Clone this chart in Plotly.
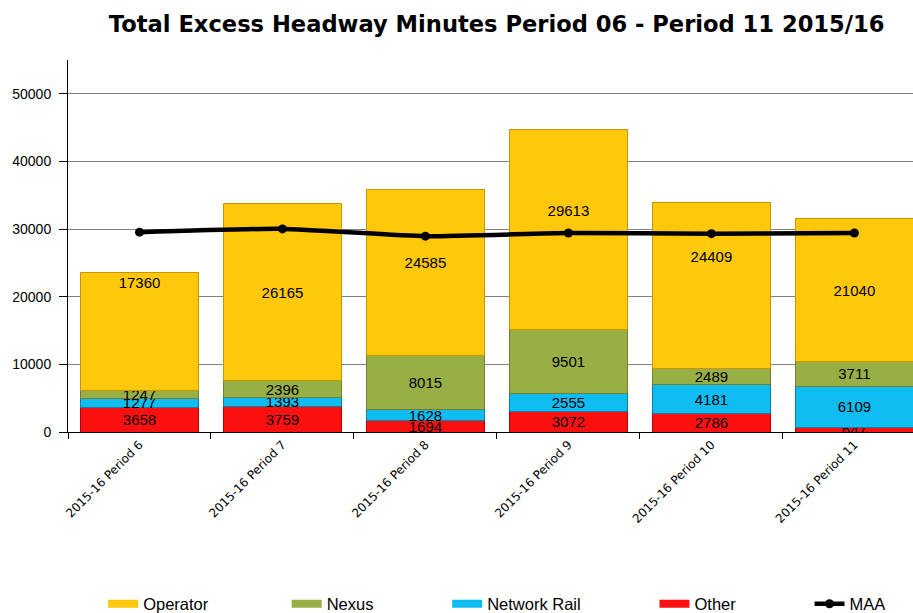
import plotly.graph_objects as go

categories = ["2015-16 Period 6", "2015-16 Period 7", "2015-16 Period 8",
              "2015-16 Period 9", "2015-16 Period 10", "2015-16 Period 11"]
other = [3658, 3759, 1694, 3072, 2786, 647]
network_rail = [1277, 1393, 1628, 2555, 4181, 6109]
nexus = [1247, 2396, 8015, 9501, 2489, 3711]
operator = [17360, 26165, 24585, 29613, 24409, 21040]
maa = [29550, 30030, 28950, 29420, 29320, 29420]

# label nudges (in blank text lines) reproducing the moved Operator labels
operator_label_lift = [5, 0, 1, 2, 3, 0]

NB = "\u00a0"


def labels(vals, lift=None):
    lift = lift or [0] * len(vals)
    return [str(v) + ("<br>" + NB) * n for v, n in zip(vals, lift)]


# (name, values, fill, edge, legend rank, legend padding, label lift)
series = [
    ("Other", other, "#FF1010", "#B00000", 4, 15, None),
    ("Network Rail", network_rail, "#10BDF2", "#0A7FA8", 3, 15, None),
    ("Nexus", nexus, "#98AF45", "#6E8030", 2, 15, None),
    ("Operator", operator, "#FFC80A", "#C89600", 1, 16, operator_label_lift),
]

fig = go.Figure()
for name, vals, col, edge, rank, pad, lift in series:
    fig.add_trace(go.Bar(
        x=categories, y=vals, name=name, legendgroup=name, showlegend=False,
        marker=dict(color=col, line=dict(color=edge, width=1)),
        text=labels(vals, lift), textposition="inside",
        insidetextanchor="middle", constraintext="none",
        textfont=dict(family="Liberation Sans, Arial", size=15, color="black"),
        width=0.82, hovertemplate=name + ": %{y}<extra></extra>",
    ))
    # legend swatch entry (wide flat bar look)
    fig.add_trace(go.Scatter(
        x=[None], y=[None], name=name + NB * pad, legendgroup=name, legendrank=rank,
        mode="lines", line=dict(color=col, width=8), hoverinfo="skip",
    ))

fig.add_trace(go.Scatter(
    x=categories, y=maa, name="MAA", legendrank=5, mode="lines+markers",
    line=dict(color="black", width=4.5, shape="spline", smoothing=0.5),
    marker=dict(color="black", size=9),
))

fig.update_layout(
    width=913, height=613,
    barmode="stack",
    plot_bgcolor="white", paper_bgcolor="white",
    margin=dict(l=68, r=0, t=60, b=181, autoexpand=False),
    font=dict(family="Liberation Sans, Arial", size=13, color="black"),
    title=dict(text="<b>Total Excess Headway Minutes Period 06 - Period 11 2015/16</b>",
               x=0.544, xanchor="center", y=0.961, yanchor="middle",
               font=dict(family="DejaVu Sans", size=22.6, color="black")),
    showlegend=True,
    legend=dict(orientation="h", xref="container", yref="container",
                x=0.113, xanchor="left", y=0.0147, yanchor="middle",
                font=dict(family="Liberation Sans, Arial", size=16.5),
                itemwidth=30, traceorder="normal", bgcolor="rgba(0,0,0,0)"),
)

fig.update_xaxes(
    type="category", range=[-0.5, 5.41], tickson="boundaries",
    ticks="outside", ticklen=6, tickcolor="black",
    showline=True, linecolor="black", linewidth=1, showgrid=False,
    tickangle=-45, automargin=False,
    tickfont=dict(family="DejaVu Sans", size=12),
)
fig.update_yaxes(
    range=[0, 55000], dtick=10000, tick0=0, tickformat="d",
    ticks="outside", ticklen=8, tickcolor="black", ticklabelstandoff=5,
    showline=True, linecolor="black", linewidth=1,
    showgrid=True, gridcolor="#808080", gridwidth=1,
    zeroline=False, automargin=False,
    tickfont=dict(family="Liberation Sans, Arial", size=14),
)

fig.write_html(
    "out.html",
    config={"displayModeBar": False},
    post_script="document.body.style.margin='0';document.body.style.padding='0';",
)
